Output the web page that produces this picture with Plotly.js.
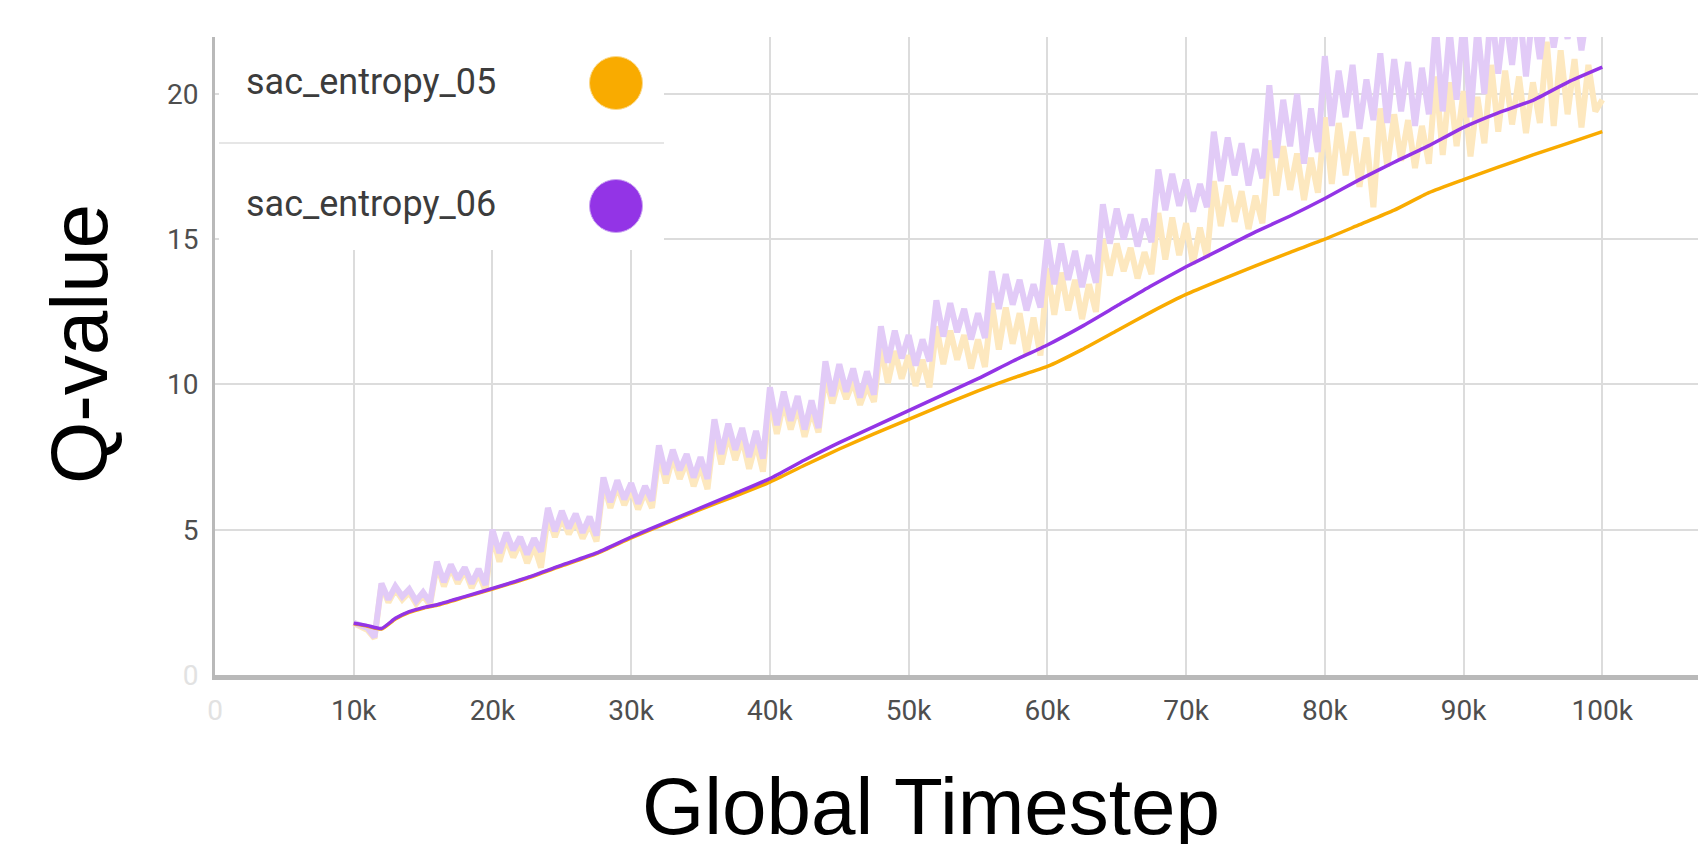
<!DOCTYPE html>
<html>
<head>
<meta charset="utf-8">
<script src="https://cdn.plot.ly/plotly-3.0.1.min.js"></script>
<style>
  html, body { margin: 0; padding: 0; background: #ffffff; }
  #chart { width: 1698px; height: 844px; }
</style>
</head>
<body>
<div id="chart"></div>
<script>
// ---------------- data ----------------
const seriesNames = ["sac_entropy_05", "sac_entropy_06"];
const seriesColors = ["#f9ab00", "#9334e6"];
const rawColors = ["#fde8bf", "#e2cbf7"];

const xTickVals = [0, 10000, 20000, 30000, 40000, 50000, 60000, 70000, 80000, 90000, 100000];
const xTickLabels = ["0", "10k", "20k", "30k", "40k", "50k", "60k", "70k", "80k", "90k", "100k"];
const yTickVals = [0, 5, 10, 15, 20];
const yTickLabels = ["0", "5", "10", "15", "20"];

// raw (unsmoothed) logged steps: every 500 steps from 10k to 100k
const rawSteps = Array.from({length: 181}, (_, i) => 10000 + 500 * i);

const rawEntropy05 = [
  1.78, 1.66, 1.55, 1.26,
  3.10, 2.50, 2.95, 2.60, 2.85, 2.45, 2.75, 2.40,
  3.80, 3.05, 3.70, 3.15, 3.60, 3.00, 3.50, 2.90,
  4.80, 3.90, 4.70, 4.05, 4.55, 3.85, 4.45, 3.70,
  5.50, 4.75, 5.40, 4.85, 5.30, 4.70, 5.20, 4.60,
  6.60, 5.75, 6.50, 5.85, 6.40, 5.70, 6.30, 5.75,
  7.60, 6.60, 7.50, 6.75, 7.35, 6.50, 7.20, 6.40,
  8.40, 7.25, 8.30, 7.40, 8.15, 7.10, 8.00, 7.00,
  9.50, 8.30, 9.40, 8.45, 9.25, 8.20, 9.10, 8.35,
  10.30, 9.35, 10.20, 9.50, 10.10, 9.30, 9.95, 9.40,
  11.30, 10.05, 11.15, 10.20, 11.00, 9.95, 10.85, 9.90,
  12.00, 10.70, 11.85, 10.85, 11.70, 10.55, 11.55, 10.60,
  12.80, 11.20, 12.65, 11.40, 12.45, 11.05, 12.30, 11.00,
  14.00, 12.40, 13.85, 12.55, 13.60, 12.25, 13.45, 12.50,
  15.00, 13.75, 14.85, 13.90, 14.70, 13.65, 14.55, 13.80,
  15.90, 14.30, 15.75, 14.45, 15.55, 14.15, 15.40, 14.35,
  17.00, 15.45, 16.85, 15.60, 16.65, 15.35, 16.50, 15.55,
  18.40, 16.50, 18.20, 16.70, 17.95, 16.35, 17.80, 16.60,
  19.20, 16.90, 19.00, 17.20, 18.70, 16.80, 18.50, 16.10,
  19.50, 17.50, 19.30, 17.70, 19.10, 17.45, 18.90, 17.60,
  20.60, 17.90, 20.40, 18.20, 20.10, 17.85, 19.90, 18.30,
  21.00, 18.70, 20.80, 18.95, 20.60, 18.65, 20.40, 19.00,
  21.80, 18.90, 21.50, 19.30, 21.20, 18.85, 21.00, 19.40,
  19.80
];

const rawEntropy06 = [
  1.80, 1.70, 1.62, 1.30,
  3.15, 2.60, 3.05, 2.70, 2.95, 2.55, 2.85, 2.50,
  3.90, 3.20, 3.80, 3.30, 3.70, 3.15, 3.65, 3.10,
  5.00, 4.20, 4.90, 4.30, 4.75, 4.15, 4.70, 4.25,
  5.75, 4.95, 5.65, 5.05, 5.55, 4.90, 5.45, 4.80,
  6.80, 5.95, 6.70, 6.05, 6.60, 5.90, 6.50, 6.00,
  7.90, 6.90, 7.75, 7.05, 7.60, 6.80, 7.50, 6.75,
  8.80, 7.60, 8.65, 7.75, 8.50, 7.50, 8.40, 7.45,
  9.90, 8.60, 9.75, 8.75, 9.60, 8.45, 9.45, 8.50,
  10.80, 9.60, 10.70, 9.75, 10.55, 9.55, 10.45, 9.65,
  12.00, 10.75, 11.85, 10.90, 11.70, 10.65, 11.55, 10.80,
  12.90, 11.65, 12.80, 11.80, 12.60, 11.55, 12.45, 11.60,
  13.90, 12.60, 13.80, 12.75, 13.60, 12.55, 13.45, 12.65,
  15.00, 13.45, 14.85, 13.60, 14.60, 13.35, 14.45, 13.50,
  16.20, 14.85, 16.05, 15.00, 15.85, 14.75, 15.70, 14.90,
  17.40, 16.00, 17.25, 16.15, 17.05, 15.95, 16.90, 16.10,
  18.70, 17.00, 18.50, 17.20, 18.30, 16.85, 18.10, 17.10,
  20.30, 17.80, 19.80, 18.20, 20.00, 17.60, 19.50, 18.00,
  21.30, 18.90, 20.80, 19.20, 21.00, 18.80, 20.50, 19.10,
  21.40, 19.00, 21.20, 19.40, 21.10, 18.90, 20.90, 19.30,
  22.40, 19.40, 22.20, 19.80, 22.60, 19.20, 22.30, 20.00,
  23.00, 20.70, 22.80, 21.00, 23.10, 20.60, 22.90, 21.20,
  23.20, 21.60, 23.00, 21.90, 23.30, 21.50, 23.10, 22.00,
  22.60
];

// smoothed curves
const smoothSteps = [10000, 11000, 12000, 13000, 14000, 15000, 16000, 18000, 20000,
  22500, 25000, 27500, 30000, 32500, 35000, 37500, 40000, 42500, 45000, 47500, 50000,
  52500, 55000, 57500, 60000, 62500, 65000, 67500, 70000, 72500, 75000, 77500, 80000,
  82500, 85000, 87500, 90000, 92500, 95000, 97500, 100000];

const smoothEntropy05 = [1.76, 1.68, 1.58, 1.93, 2.16, 2.30, 2.40, 2.68, 2.96,
  3.33, 3.76, 4.18, 4.72, 5.22, 5.70, 6.16, 6.64, 7.22, 7.78, 8.30, 8.80,
  9.30, 9.78, 10.22, 10.62, 11.20, 11.85, 12.50, 13.10, 13.60, 14.08, 14.55, 15.00,
  15.50, 16.00, 16.60, 17.05, 17.48, 17.90, 18.30, 18.70];

const smoothEntropy06 = [1.78, 1.70, 1.60, 1.95, 2.18, 2.32, 2.42, 2.70, 2.98,
  3.35, 3.78, 4.20, 4.75, 5.25, 5.75, 6.25, 6.76, 7.40, 8.00, 8.55, 9.10,
  9.65, 10.20, 10.80, 11.36, 12.00, 12.70, 13.40, 14.05, 14.65, 15.25, 15.80, 16.40,
  17.05, 17.65, 18.22, 18.85, 19.35, 19.78, 20.40, 20.92];

// ---------------- chart ----------------
const traces = [
  {x: rawSteps, y: rawEntropy05, type: "scatter", mode: "lines",
   line: {color: rawColors[0], width: 6}, hoverinfo: "skip", showlegend: false},
  {x: rawSteps, y: rawEntropy06, type: "scatter", mode: "lines",
   line: {color: rawColors[1], width: 6}, hoverinfo: "skip", showlegend: false},
  {x: smoothSteps, y: smoothEntropy05, type: "scatter", mode: "lines", name: seriesNames[0],
   line: {color: seriesColors[0], width: 3.5, shape: "spline", smoothing: 0.5}, showlegend: false},
  {x: smoothSteps, y: smoothEntropy06, type: "scatter", mode: "lines", name: seriesNames[1],
   line: {color: seriesColors[1], width: 3.5, shape: "spline", smoothing: 0.5}, showlegend: false}
];

const faint = s => '<span style="color:#e2e2e2">' + s + '</span>';
const xText = xTickLabels.map((t, i) => i === 0 ? faint(t) : t);
const yText = yTickLabels.map((t, i) => i === 0 ? faint(t) : t);

const PL = 215, PT = 37, PW = 1483, PH = 638;
const px = x => (x - PL) / PW;          // pixel -> paper x
const py = y => (PT + PH - y) / PH;     // pixel -> paper y

const layout = {
  width: 1698, height: 844,
  margin: {l: PL, r: 0, t: PT, b: 844 - PT - PH, pad: 0},
  paper_bgcolor: "#ffffff", plot_bgcolor: "#ffffff",
  showlegend: false,
  xaxis: {
    range: [0, 106900], tickmode: "array", tickvals: xTickVals, ticktext: xText,
    showgrid: true, gridcolor: "#dcdcdc", gridwidth: 2, zeroline: false,
    showline: true, linecolor: "#b9b9b9", linewidth: 5,
    ticks: "", ticklabelstandoff: 6,
    tickfont: {family: "Roboto, 'Noto Sans', sans-serif", size: 28, color: "#4e4e4e"}
  },
  yaxis: {
    range: [0, 21.96], tickmode: "array", tickvals: yTickVals, ticktext: yText,
    showgrid: true, gridcolor: "#dcdcdc", gridwidth: 2, zeroline: false,
    showline: true, linecolor: "#b9b9b9", linewidth: 3,
    ticks: "", ticklabelstandoff: 8,
    tickfont: {family: "Roboto, 'Noto Sans', sans-serif", size: 28, color: "#4e4e4e"}
  },
  shapes: [
    {type: "rect", xref: "paper", yref: "paper", x0: px(219), x1: px(664), y0: py(250), y1: py(30),
     fillcolor: "#ffffff", line: {width: 0}, layer: "above"},
    {type: "line", xref: "paper", yref: "paper", x0: px(219), x1: px(664), y0: py(143), y1: py(143),
     line: {color: "#e6e6e6", width: 2}, layer: "above"},
    {type: "circle", xref: "paper", yref: "paper", xsizemode: "pixel", ysizemode: "pixel",
     xanchor: px(616), yanchor: py(83), x0: -26.5, x1: 26.5, y0: -26.5, y1: 26.5,
     fillcolor: seriesColors[0], line: {color: "#fbd98a", width: 1}, layer: "above"},
    {type: "circle", xref: "paper", yref: "paper", xsizemode: "pixel", ysizemode: "pixel",
     xanchor: px(616), yanchor: py(206), x0: -26.5, x1: 26.5, y0: -26.5, y1: 26.5,
     fillcolor: seriesColors[1], line: {color: "#c9a3f2", width: 1}, layer: "above"}
  ],
  annotations: [
    {text: seriesNames[0], xref: "paper", yref: "paper", x: px(244), y: py(82),
     xanchor: "left", yanchor: "middle", showarrow: false,
     font: {family: "Roboto, 'Noto Sans', sans-serif", size: 36, color: "#3c3c3c"}},
    {text: seriesNames[1], xref: "paper", yref: "paper", x: px(244), y: py(204),
     xanchor: "left", yanchor: "middle", showarrow: false,
     font: {family: "Roboto, 'Noto Sans', sans-serif", size: 36, color: "#3c3c3c"}},
    {text: "Global Timestep", xref: "paper", yref: "paper", x: px(930.6), y: py(806),
     xanchor: "center", yanchor: "middle", showarrow: false,
     font: {family: "'Liberation Sans', Arial, sans-serif", size: 80, color: "#000000"}},
    {text: "Q-value", xref: "paper", yref: "paper", x: px(79), y: py(344), textangle: -90,
     xanchor: "center", yanchor: "middle", showarrow: false,
     font: {family: "'Liberation Sans', Arial, sans-serif", size: 80, color: "#000000"}}
  ]
};

Plotly.newPlot("chart", traces, layout, {staticPlot: true, displayModeBar: false});
</script>
</body>
</html>
